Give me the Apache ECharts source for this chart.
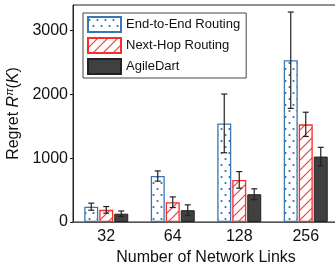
<!DOCTYPE html>
<html>
<head>
<meta charset="utf-8">
<script src="https://cdn.jsdelivr.net/npm/echarts@6/dist/echarts.min.js"></script>
<style>
  html, body { margin: 0; padding: 0; background: #fff; }
  #main { width: 335px; height: 265px; }
</style>
</head>
<body>
<div id="main"></div>
<script>
var categories = ['32', '64', '128', '256'];
var endToEnd = [240, 720, 1545, 2535];
var endToEndErr = [55, 80, 460, 755];
var nextHop = [190, 310, 660, 1530];
var nextHopErr = [52, 83, 130, 190];
var agileDart = [130, 185, 435, 1025];
var agileDartErr = [42, 84, 85, 145];
var yTicks = [0, 1000, 2000, 3000];

var FONT = 'Liberation Sans, Arial, sans-serif';
var BAR_W = 14;
var STEP = 15; // bar width + 1px gap

// dotted fill for End-to-End bars
function dotPattern() {
    var c = document.createElement('canvas');
    c.width = 8; c.height = 12;
    var ctx = c.getContext('2d');
    ctx.fillStyle = '#fff';
    ctx.fillRect(0, 0, 8, 12);
    ctx.fillStyle = '#2f6fad';
    [[1.5, 3], [5.5, 9]].forEach(function (p) {
        ctx.beginPath();
        ctx.arc(p[0], p[1], 1.1, 0, Math.PI * 2);
        ctx.fill();
    });
    return c;
}

// diagonal hatch for Next-Hop bars
function hatchPattern() {
    var c = document.createElement('canvas');
    c.width = 10; c.height = 10;
    var ctx = c.getContext('2d');
    ctx.fillStyle = '#fff';
    ctx.fillRect(0, 0, 10, 10);
    ctx.strokeStyle = '#ff3030';
    ctx.lineWidth = 1.1;
    ctx.beginPath();
    ctx.moveTo(-1, 11); ctx.lineTo(11, -1);
    ctx.moveTo(-1, 1); ctx.lineTo(1, -1);
    ctx.moveTo(9, 11); ctx.lineTo(11, 9);
    ctx.stroke();
    return c;
}

function errData(vals, errs, offset) {
    return vals.map(function (v, i) {
        return [i, v - errs[i], v + errs[i], offset];
    });
}

function renderErr(params, api) {
    var lo = api.coord([api.value(0), api.value(1)]);
    var hi = api.coord([api.value(0), api.value(2)]);
    var x = lo[0] + api.value(3);
    var cap = 3;
    var style = { stroke: '#222', lineWidth: 1.2 };
    return {
        type: 'group',
        children: [
            { type: 'line', shape: { x1: x, y1: lo[1], x2: x, y2: hi[1] }, style: style },
            { type: 'line', shape: { x1: x - cap, y1: lo[1], x2: x + cap, y2: lo[1] }, style: style },
            { type: 'line', shape: { x1: x - cap, y1: hi[1], x2: x + cap, y2: hi[1] }, style: style }
        ]
    };
}

var myChart = echarts.init(document.getElementById('main'));

var option = {
    animation: false,
    textStyle: { fontFamily: FONT },
    grid: {
        left: 73, top: 5, width: 266, height: 217,
        outerBoundsMode: 'none',
        show: true, borderColor: '#222', borderWidth: 1
    },
    legend: {
        left: 83, top: 13,
        orient: 'vertical',
        icon: 'rect',
        itemWidth: 33, itemHeight: 15, itemGap: 4,
        padding: [3, 6, 3, 4],
        borderColor: '#444', borderWidth: 1,
        textStyle: { fontFamily: FONT, fontSize: 13, color: '#111' },
        data: ['End-to-End Routing', 'Next-Hop Routing', 'AgileDart']
    },
    xAxis: {
        type: 'category',
        data: categories,
        axisLine: { lineStyle: { color: '#555', width: 1 } },
        axisTick: { show: false },
        axisLabel: { fontSize: 16, color: '#111', margin: 7, fontFamily: FONT },
        name: 'Number of Network Links',
        nameLocation: 'middle',
        nameGap: 23,
        nameTextStyle: { fontSize: 16, color: '#111', fontFamily: FONT }
    },
    yAxis: {
        type: 'value',
        min: 0, max: 3400, interval: 1000,
        splitLine: { show: false },
        axisLine: { show: true, lineStyle: { color: '#222' } },
        axisTick: { show: true, length: 3, customValues: yTicks, lineStyle: { color: '#222' } },
        axisLabel: {
            fontSize: 16, color: '#111', margin: 5, fontFamily: FONT, customValues: yTicks,
            formatter: function (v) { return String(v); }
        },
        name: '{n|Regret }{i|R}{s|π}{n|(}{i|K}{n|)}',
        nameLocation: 'middle',
        nameGap: 44,
        nameTextStyle: {
            rich: {
                n: { fontSize: 16, color: '#111', fontFamily: FONT },
                i: { fontSize: 16, color: '#111', fontFamily: FONT, fontStyle: 'italic' },
                s: { fontSize: 11, color: '#111', fontFamily: FONT, fontStyle: 'italic', padding: [0, 0, 8, 0] }
            }
        }
    },
    series: [
        {
            name: 'End-to-End Routing', type: 'bar', data: endToEnd,
            barWidth: BAR_W, barGap: '7.14%',
            itemStyle: { color: { image: dotPattern(), repeat: 'repeat' }, borderColor: '#3a78b5', borderWidth: 1.3 }
        },
        {
            name: 'Next-Hop Routing', type: 'bar', data: nextHop,
            barWidth: BAR_W, barGap: '7.14%',
            itemStyle: { color: { image: hatchPattern(), repeat: 'repeat' }, borderColor: '#ff2a2a', borderWidth: 1.3 }
        },
        {
            name: 'AgileDart', type: 'bar', data: agileDart,
            barWidth: BAR_W, barGap: '7.14%',
            itemStyle: { color: '#404040', borderColor: '#222', borderWidth: 1 }
        },
        { type: 'custom', renderItem: renderErr, data: errData(endToEnd, endToEndErr, -STEP), z: 10 },
        { type: 'custom', renderItem: renderErr, data: errData(nextHop, nextHopErr, 0), z: 10 },
        { type: 'custom', renderItem: renderErr, data: errData(agileDart, agileDartErr, STEP), z: 10 }
    ]
};

myChart.setOption(option);
</script>
</body>
</html>
